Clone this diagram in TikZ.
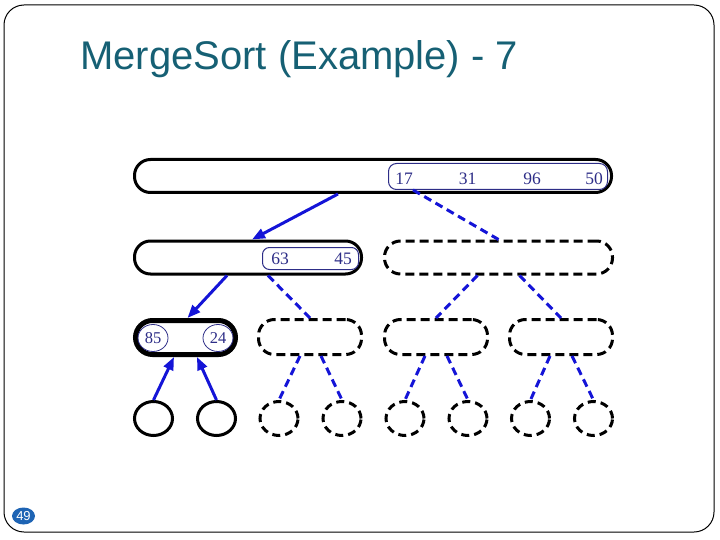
\documentclass[tikz,border=0pt]{standalone}
\usepackage{fontspec}
\setmainfont{Liberation Serif}
\newfontfamily\titlefont{Liberation Sans}
\usetikzlibrary{arrows.meta,shapes.geometric,calc}
\definecolor{titleteal}{RGB}{22,96,116}
\definecolor{edgeblue}{RGB}{20,20,215}
\definecolor{navy}{RGB}{45,45,135}
\definecolor{badgeblue}{RGB}{30,100,180}
\begin{document}
\begin{tikzpicture}[x=1pt,y=-1pt,
  box/.style={draw=black, line width=3pt, rectangle, rounded corners=16pt, inner sep=0pt, minimum height=33pt},
  dbox/.style={box, dash pattern=on 9pt off 5pt},
  inbox/.style={draw=navy, line width=1pt, rectangle, rounded corners=8pt, inner sep=0pt, minimum height=26pt},
  leaf/.style={draw=black, line width=3pt, ellipse, inner sep=0pt, minimum width=38pt, minimum height=34pt},
  dleaf/.style={leaf, dash pattern=on 8pt off 5pt},
  num/.style={text=navy, font=\fontsize{17.5}{17.5}\selectfont, inner sep=0pt},
  numc/.style={draw=navy, line width=0.8pt, ellipse, text=navy, font=\fontsize{16.5}{16.5}\selectfont, inner sep=0pt, minimum width=30pt, minimum height=27pt},
  arr/.style={draw=edgeblue, line width=3pt, -{Triangle[length=13pt,width=10pt]}},
  dedge/.style={draw=edgeblue, line width=3pt, dash pattern=on 8pt off 5pt}
]
\useasboundingbox (0,0) rectangle (720,540);
% frame
\draw[line width=1pt, rounded corners=20pt] (4,5) rectangle (714,532);
% title
\node[anchor=base west, inner sep=0pt, text=titleteal, font=\titlefont\fontsize{40}{48}\selectfont] (title) at (80,70) {MergeSort (Example) - 7};
% page badge
\node[ellipse, fill=badgeblue, text=white, inner sep=0pt, minimum width=23pt, minimum height=17pt, font=\titlefont\fontsize{13}{13}\selectfont] (page) at (23.5,516) {49};

% row 1
\node[box, minimum width=477pt] (r1) at (373,176) {};
\node[inbox, minimum width=219pt] (r1in) at (498,176.5) {};
\node[num] (n17) at (404,178.5) {17};
\node[num] (n31) at (467.5,178.5) {31};
\node[num] (n96) at (532,178.5) {96};
\node[num] (n50) at (594,178.5) {50};

% row 2
\node[box, minimum width=227pt] (r2a) at (248,257.5) {};
\node[inbox, rounded corners=7pt, minimum width=96pt, minimum height=22pt] (r2ain) at (310.5,258.5) {};
\node[num] (n63) at (280,258.5) {63};
\node[num] (n45) at (343,258.5) {45};
\node[dbox, minimum width=228pt] (r2b) at (498.5,257.5) {};

% row 3
\node[box, line width=5pt, rounded corners=17pt, minimum width=100pt, minimum height=34pt] (r3a) at (185.5,337.5) {};
\node[numc] (n85) at (153,338) {85};
\node[numc] (n24) at (218,338) {24};
\node[dbox, minimum width=103pt, minimum height=35pt] (r3b) at (310,337) {};
\node[dbox, minimum width=103pt, minimum height=35pt] (r3c) at (436,337) {};
\node[dbox, minimum width=103pt, minimum height=35pt] (r3d) at (561,337) {};

% row 4
\node[leaf] (c1) at (153.5,418.5) {};
\node[leaf] (c2) at (216.5,418.5) {};
\node[dleaf] (c3) at (279,418.5) {};
\node[dleaf] (c4) at (342,418.5) {};
\node[dleaf] (c5) at (405,418.5) {};
\node[dleaf] (c6) at (468,418.5) {};
\node[dleaf] (c7) at (530.5,418.5) {};
\node[dleaf] (c8) at (593.5,418.5) {};

% connectors
\draw[arr] ([xshift=-35pt]r1.south) -- ([xshift=4pt]r2a.north);
\draw[dedge] ([xshift=-85pt]r1in.south) -- (r2b.north);
\draw[arr] ([xshift=-21pt]r2a.south) -- ([xshift=2pt]r3a.north);
\draw[dedge] ([xshift=20pt]r2a.south) -- (r3b.north);
\draw[dedge] ([xshift=-21pt]r2b.south) -- (r3c.north);
\draw[dedge] ([xshift=21pt]r2b.south) -- (r3d.north);
\draw[arr] (c1.north) -- ([xshift=-11.5pt]r3a.south);
\draw[arr] (c2.north) -- ([xshift=11.5pt]r3a.south);
\draw[dedge] ([xshift=-10pt]r3b.south) -- (c3.north);
\draw[dedge] ([xshift=11pt]r3b.south) -- (c4.north);
\draw[dedge] ([xshift=-11pt]r3c.south) -- (c5.north);
\draw[dedge] ([xshift=11pt]r3c.south) -- (c6.north);
\draw[dedge] ([xshift=-11pt]r3d.south) -- (c7.north);
\draw[dedge] ([xshift=11pt]r3d.south) -- (c8.north);
\end{tikzpicture}
\end{document}
